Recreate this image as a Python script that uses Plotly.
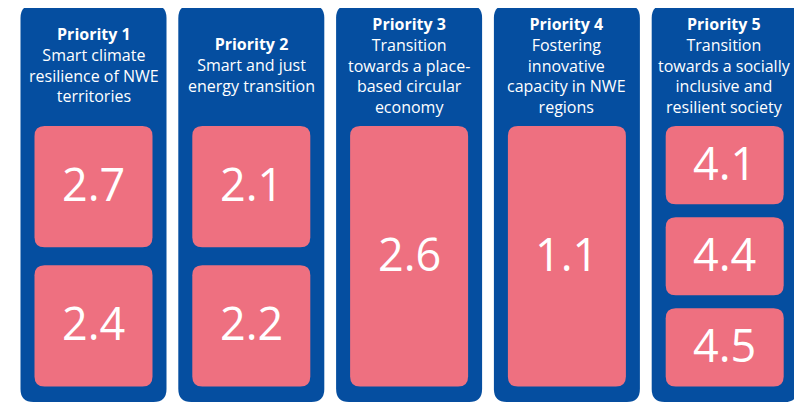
import plotly.graph_objects as go

# ---- data ----
priority_labels = ["Priority 1", "Priority 2", "Priority 3", "Priority 4", "Priority 5"]
priority_titles = [
    "Smart climate<br>resilience of NWE<br>territories",
    "Smart and just<br>energy transition",
    "Transition<br>towards a place-<br>based circular<br>economy",
    "Fostering<br>innovative<br>capacity in NWE<br>regions",
    "Transition<br>towards a socially<br>inclusive and<br>resilient society",
]
objectives = [
    ["2.7", "2.4"],
    ["2.1", "2.2"],
    ["2.6"],
    ["1.1"],
    ["4.1", "4.4", "4.5"],
]

BLUE = "#054EA0"
PINK = "#EE7080"
W, H = 802, 403
OFF = 8  # page body margin compensation


def rrect(x0, y0, x1, y1, r):
    return (f"M {x0+r},{y0} L {x1-r},{y0} Q {x1},{y0} {x1},{y0+r} "
            f"L {x1},{y1-r} Q {x1},{y1} {x1-r},{y1} L {x0+r},{y1} "
            f"Q {x0},{y1} {x0},{y1-r} L {x0},{y0+r} Q {x0},{y0} {x0+r},{y0} Z")


fig = go.Figure()
shapes, annotations = [], []

col_w, col_step, col_x0 = 146, 157.8, 20.5
col_top, col_bot = 5, 402
box_top, box_bot, inset = 126, 386.5, 14
gaps = {1: 0, 2: 18, 3: 13}

for i, (lab, title, vals) in enumerate(zip(priority_labels, priority_titles, objectives)):
    x0 = col_x0 + i * col_step
    x1 = x0 + col_w
    shapes.append(dict(type="path", path=rrect(x0, col_top, x1, col_bot, 13),
                       fillcolor=BLUE, line=dict(width=0), layer="below"))
    annotations.append(dict(
        x=(x0 + x1) / 2, y=65, xref="x", yref="y", showarrow=False,
        xanchor="center", yanchor="middle", align="center",
        text=f"<b>{lab}</b><br>{title}",
        font=dict(family="Open Sans", size=16, color="white")))
    n = len(vals)
    g = gaps[n]
    bh = (box_bot - box_top - g * (n - 1)) / n
    for j, v in enumerate(vals):
        by0 = box_top + j * (bh + g)
        by1 = by0 + bh
        shapes.append(dict(type="path", path=rrect(x0 + inset, by0, x1 - inset, by1, 10),
                           fillcolor=PINK, line=dict(width=0), layer="below"))
        annotations.append(dict(
            x=(x0 + x1) / 2, y=(by0 + by1) / 2 - 3, xref="x", yref="y", showarrow=False,
            xanchor="center", yanchor="middle", text=v,
            font=dict(family="Open Sans", size=45, color="white")))

fig.update_layout(
    width=W, height=H, margin=dict(l=0, r=0, t=0, b=0),
    paper_bgcolor="white", plot_bgcolor="white",
    xaxis=dict(range=[OFF, W + OFF], visible=False, fixedrange=True),
    yaxis=dict(range=[H + OFF, OFF], visible=False, fixedrange=True),
    shapes=shapes, annotations=annotations, showlegend=False,
)
fig.write_html("out.html", config={"displayModeBar": False})
